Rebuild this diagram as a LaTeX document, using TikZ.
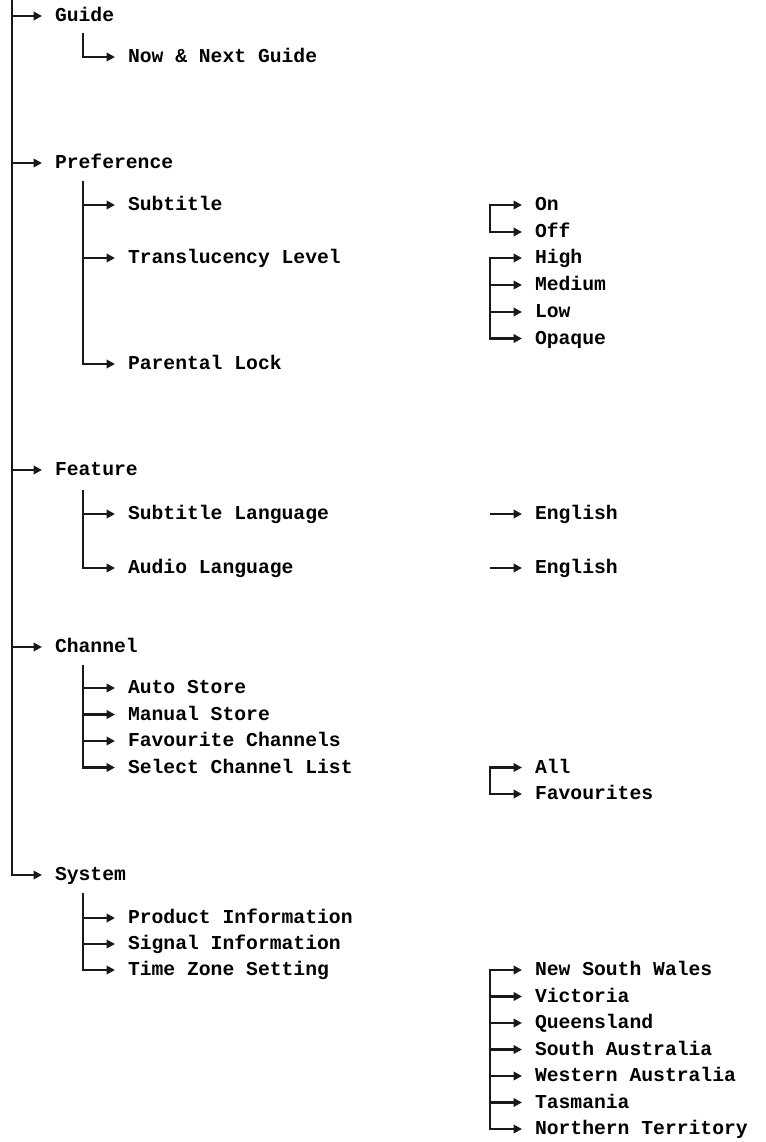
\documentclass[tikz,border=0pt]{standalone}
\usepackage{fontspec}
\setmainfont{Liberation Mono}
\usetikzlibrary{arrows.meta}
\tikzset{
  lbl/.style={anchor=west,inner xsep=0pt,inner ysep=0pt,outer xsep=13pt,outer ysep=0pt,
    font=\fontsize{19.7}{22}\selectfont\bfseries,text height=11.8pt,text depth=0pt},
  link/.style={line width=2.6pt,draw=black!90,line join=miter},
  arr/.style={link,-{Triangle[length=8.5pt,width=8.5pt]}},
  arrboth/.style={link,{Triangle[length=8.5pt,width=8.5pt]}-{Triangle[length=8.5pt,width=8.5pt]}}
}
\begin{document}
\begin{tikzpicture}[x=1pt,y=-1pt]
\useasboundingbox (0,0) rectangle (765,1142);
\coordinate (mtop) at (12,-2);
% level 1
\node[lbl] (guide) at (42,16) {Guide};
\node[lbl] (pref) at (42,163) {Preference};
\node[lbl] (feat) at (42,470) {Feature};
\node[lbl] (chan) at (42,647) {Channel};
\node[lbl] (sys) at (42,875) {System};
% level 2
\node[lbl] (now) at (115,57) {Now \& Next Guide};
\node[lbl] (sub) at (115,205) {Subtitle};
\node[lbl] (trans) at (115,258) {Translucency Level};
\node[lbl] (par) at (115,364) {Parental Lock};
\node[lbl] (sublang) at (115,514) {Subtitle Language};
\node[lbl] (audio) at (115,568) {Audio Language};
\node[lbl] (auto) at (115,688) {Auto Store};
\node[lbl] (manual) at (115,714.5) {Manual Store};
\node[lbl] (favch) at (115,741) {Favourite Channels};
\node[lbl] (selch) at (115,767.5) {Select Channel List};
\node[lbl] (prod) at (115,918) {Product Information};
\node[lbl] (sig) at (115,944) {Signal Information};
\node[lbl] (tz) at (115,970) {Time Zone Setting};
% level 3
\node[lbl] (on) at (522,205) {On};
\node[lbl] (off) at (522,232) {Off};
\node[lbl] (high) at (522,258) {High};
\node[lbl] (med) at (522,285) {Medium};
\node[lbl] (low) at (522,312) {Low};
\node[lbl] (opq) at (522,338.5) {Opaque};
\node[lbl] (eng1) at (522,514) {English};
\node[lbl] (eng2) at (522,568) {English};
\node[lbl] (all) at (522,767.5) {All};
\node[lbl] (favs) at (522,794) {Favourites};
\node[lbl] (nsw) at (522,970) {New South Wales};
\node[lbl] (vic) at (522,996.5) {Victoria};
\node[lbl] (qld) at (522,1023) {Queensland};
\node[lbl] (sa) at (522,1049.5) {South Australia};
\node[lbl] (wa) at (522,1076) {Western Australia};
\node[lbl] (tas) at (522,1102.5) {Tasmania};
\node[lbl] (nt) at (522,1129) {Northern Territory};
% level-2 column tops
\coordinate (g2) at (83,33);
\coordinate (p2) at (83,181);
\coordinate (f2) at (83,490);
\coordinate (c2) at (83,665);
\coordinate (s2) at (83,893);
\coordinate (c3) at (490,0);
\coordinate (e3) at (490,0);
% main trunk
\draw[arr] (mtop) |- (sys.west);
\foreach \n in {guide,pref,feat,chan}{\draw[arr] (mtop|-\n.west) -- (\n.west);}
% level 2 branches
\draw[arr] (g2) |- (now.west);
\draw[arr] (p2) |- (par.west);
\foreach \n in {sub,trans}{\draw[arr] (p2|-\n.west) -- (\n.west);}
\draw[arr] (f2) |- (audio.west);
\draw[arr] (f2|-sublang.west) -- (sublang.west);
\draw[arr] (c2) |- (selch.west);
\foreach \n in {auto,manual,favch}{\draw[arr] (c2|-\n.west) -- (\n.west);}
\draw[arr] (s2) |- (tz.west);
\foreach \n in {prod,sig}{\draw[arr] (s2|-\n.west) -- (\n.west);}
% level 3 brackets
\draw[arrboth] (on.west) -| (c3|-off.west) -- (off.west);
\draw[arrboth] (high.west) -| (c3|-opq.west) -- (opq.west);
\foreach \n in {med,low}{\draw[arr] (c3|-\n.west) -- (\n.west);}
\draw[arr] (e3|-eng1.west) -- (eng1.west);
\draw[arr] (e3|-eng2.west) -- (eng2.west);
\draw[arrboth] (all.west) -| (c3|-favs.west) -- (favs.west);
\draw[arrboth] (nsw.west) -| (c3|-nt.west) -- (nt.west);
\foreach \n in {vic,qld,sa,wa,tas}{\draw[arr] (c3|-\n.west) -- (\n.west);}
\end{tikzpicture}
\end{document}
